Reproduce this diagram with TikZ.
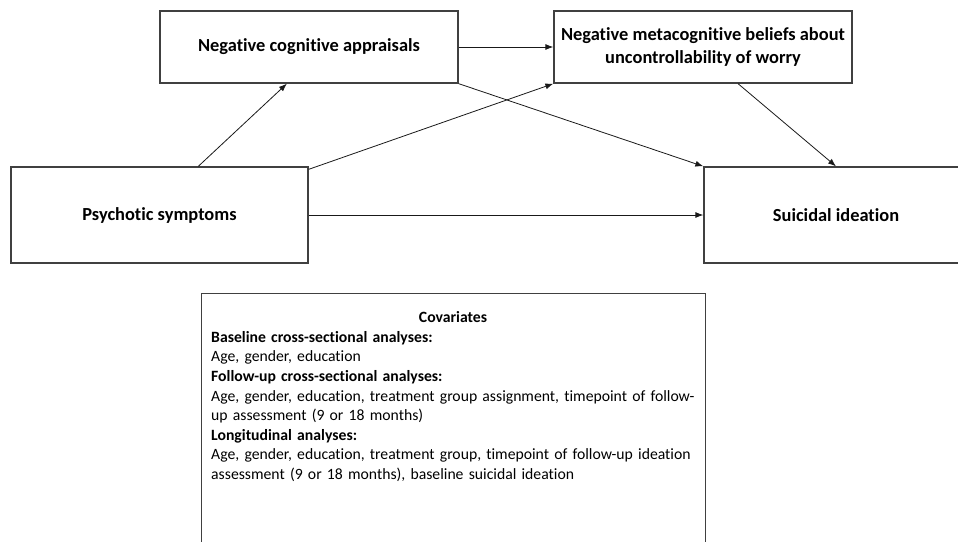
\documentclass[tikz,border=0pt]{standalone}
\usepackage{fontspec}
\setmainfont{Carlito}[Ligatures=NoCommon]
\usetikzlibrary{calc,arrows.meta}
\tikzset{
  box/.style={draw=black!75, line width=1.3pt, fill=white, inner sep=0pt, align=center,
    font=\fontsize{18.4}{23}\selectfont\bfseries},
  conn/.style={draw=black!90, line width=0.8pt, -{Latex[length=8pt,width=6pt]}},
}
\begin{document}
\begin{tikzpicture}[x=1pt,y=1pt]
\useasboundingbox (0,0) rectangle (958,-541);
\clip (0,0) rectangle (958,-541);
\node[box, minimum width=298pt, minimum height=72pt] (nca) at (309,-47) {Negative cognitive appraisals};
\node[box, minimum width=298pt, minimum height=72pt] (nmb) at (703,-47) {Negative metacognitive beliefs about\\uncontrollability of worry};
\node[box, minimum width=297pt, minimum height=96pt] (ps) at (159.5,-215) {Psychotic symptoms};
\node[box, minimum width=264pt, minimum height=96pt] (si) at (836,-215) {Suicidal ideation};
\node[box, minimum width=504pt, minimum height=270pt, anchor=north west] (cov) at (201,-293) {};
\node[anchor=north, font=\fontsize{15.7}{19.6}\selectfont\bfseries] (covt) at (453,-308) {Covariates};
\node[anchor=north west, inner sep=0pt, align=left, text width=495pt,
  font=\fontsize{15.7}{19.6}\selectfont] (covb) at (211,-331) {%
\textbf{Baseline cross-sectional analyses:}\\
Age, gender, education\\
\textbf{Follow-up cross-sectional analyses:}\\
Age, gender, education, treatment group assignment, timepoint of follow-\\
up assessment (9 or 18 months)\\
\textbf{Longitudinal analyses:}\\
Age, gender, education, treatment group, timepoint of follow-up ideation\\
assessment (9 or 18 months), baseline suicidal ideation};
\draw[conn] ($(ps.north west)!0.63!(ps.north east)$) -- ($(nca.south west)!0.426!(nca.south east)$);
\draw[conn] (nca.east) -- (nmb.west);
\draw[conn] (nca.south east) -- (si.north west);
\draw[conn] ([yshift=-3pt]ps.north east) -- (nmb.south west);
\draw[conn] (ps.east) -- (si.west);
\draw[conn] ($(nmb.south west)!0.617!(nmb.south east)$) -- (si.north);
\end{tikzpicture}
\end{document}
